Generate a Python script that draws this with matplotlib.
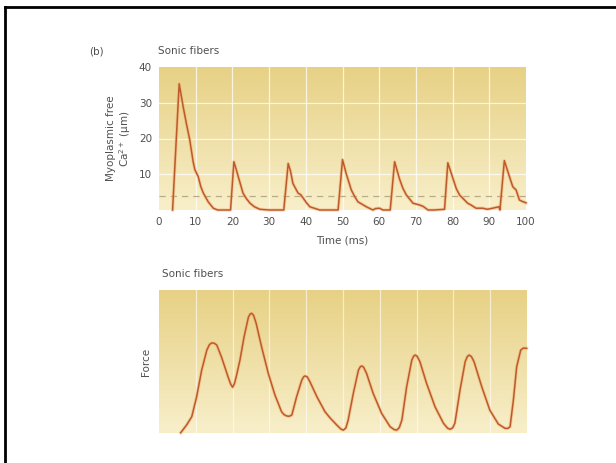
# -*- coding: utf-8 -*-
"""Sonic fibers: myoplasmic free Ca2+ transients and force trace."""

import matplotlib.pyplot as plt
import numpy as np
from matplotlib.colors import LinearSegmentedColormap
from matplotlib.lines import Line2D


# =============================================================================
# Data
# =============================================================================

CA_TIME = [3.7, 5.5, 6.6, 7.5, 8.4, 9.3, 9.8, 10.7, 11.4, 12.1, 13.4, 14.8, 16.0,
           18.9, 19.5, 20.4, 21.0, 21.6, 22.9, 23.8, 24.8, 26.0, 27.5, 30.0, 34.0,
           35.2, 35.8, 36.5, 37.9, 38.6, 39.3, 40.2, 41.1, 43.8, 46.0, 48.8,
           50.0, 51.0, 52.4, 53.3, 54.2, 56.5, 58.3, 59.0, 60.1, 61.0, 62.4, 63.0,
           64.2, 65.5, 66.4, 67.4, 69.2, 71.0, 72.0, 73.3, 75.0, 77.8,
           78.7, 80.1, 81.0, 81.9, 84.1, 85.0, 86.4, 88.2, 89.5, 90.9, 92.6, 92.9,
           94.1, 95.5, 96.4, 97.3, 98.2, 99.0, 100.0]
CA_FREE = [0.0, 35.3, 28.8, 24.0, 19.5, 13.5, 11.2, 9.3, 6.5, 4.7, 2.3, 0.5, 0.0,
           0.0, 0.0, 13.5, 11.5, 9.3, 4.7, 3.2, 1.9, 0.9, 0.2, 0.0, 0.0,
           13.0, 11.0, 7.4, 4.7, 4.3, 3.3, 2.0, 0.9, 0.0, 0.0, 0.0,
           14.1, 10.2, 5.6, 3.8, 2.3, 0.9, 0.0, 0.4, 0.5, 0.0, 0.0, 0.0,
           13.5, 8.8, 6.2, 4.2, 1.9, 1.4, 1.0, 0.0, 0.0, 0.2,
           13.2, 8.8, 6.0, 4.2, 1.9, 1.4, 0.5, 0.5, 0.2, 0.5, 0.9, 0.0,
           13.8, 9.3, 6.5, 5.6, 2.8, 2.4, 2.0]

CA_REST = 3.9

FORCE_TIME = [5.9, 7.5, 8.9, 10.2, 11.6, 13.0, 13.7, 14.3, 15.0, 15.7, 17.0, 18.8,
              19.5, 20.0, 20.5, 21.1, 22.0, 23.1, 24.3, 24.8, 25.2, 25.7, 26.4,
              27.9, 29.7, 31.5, 33.3, 34.0, 34.7, 35.4, 36.1, 37.4, 38.8, 39.3,
              39.7, 40.3, 41.0, 42.9, 45.1, 46.5, 48.3, 49.4, 50.1, 50.8, 51.4,
              52.8, 54.2, 54.7, 55.1, 55.6, 56.4, 58.2, 60.5, 62.8, 63.9, 64.6,
              65.3, 66.0, 67.3, 68.7, 69.2, 69.6, 70.1, 70.9, 72.7, 75.0, 77.3,
              78.4, 79.1, 79.8, 80.4, 81.8, 83.2, 83.8, 84.3, 84.9, 85.6, 87.7,
              89.9, 92.2, 94.0, 94.8, 95.4, 96.3, 97.2, 98.3, 99.0, 99.9]
FORCE = [0.2, 5.6, 11.4, 25.0, 44.0, 58.0, 61.8, 63.0, 62.8, 61.5, 53.0, 39.0,
         34.0, 32.0, 34.5, 40.6, 51.0, 67.0, 81.0, 83.3, 83.7, 82.3, 76.7,
         60.0, 41.7, 26.6, 14.9, 12.8, 11.9, 11.7, 12.6, 25.4, 37.0, 39.3,
         39.9, 39.2, 35.9, 25.4, 14.9, 10.5, 5.6, 2.8, 2.0, 3.6, 9.0,
         27.7, 44.0, 46.3, 46.9, 46.0, 41.7, 27.7, 13.7, 4.4, 2.4, 2.0,
         3.8, 9.0, 32.4, 51.0, 53.7, 54.5, 53.8, 49.9, 34.8, 18.4, 6.8,
         3.4, 2.6, 3.6, 6.8, 30.0, 49.9, 53.5, 54.5, 53.4, 49.9, 32.4,
         16.0, 6.3, 3.3, 3.2, 4.4, 23.0, 46.4, 58.0, 59.4, 59.2]

TIME_TICKS = [0, 10, 20, 30, 40, 50, 60, 70, 80, 90, 100]
CA_TICKS = [10, 20, 30, 40]

# =============================================================================
# Styling
# =============================================================================

W, H = 616, 463
TEXT_COLOR = "#505050"
LINE_COLOR = "#bd5a2a"
GLOW_COLOR = "#f2a86e"
BG = LinearSegmentedColormap.from_list("bg", ["#f8efca", "#e7d185"])


def px_box(x0, y0, x1, y1):
    """Axes rectangle from pixel corners (top-left origin)."""
    return [x0 / W, 1 - y1 / H, (x1 - x0) / W, (y1 - y0) / H]


def shade(ax):
    grad = np.linspace(0, 1, 256).reshape(-1, 1)
    ax.imshow(grad, cmap=BG, origin="lower", aspect="auto",
              extent=(0, 1, 0, 1), transform=ax.transAxes, zorder=0)


def trace(ax, x, y):
    ax.plot(x, y, color=GLOW_COLOR, lw=2.4, alpha=0.45, zorder=3,
            solid_joinstyle="round", clip_on=False)
    ax.plot(x, y, color=LINE_COLOR, lw=1.1, zorder=4,
            solid_joinstyle="round", clip_on=False)


def main():
    plt.rcParams.update({
        "font.family": "DejaVu Sans",
        "font.size": 7.5,
        "text.color": TEXT_COLOR,
        "axes.labelcolor": TEXT_COLOR,
        "xtick.color": TEXT_COLOR,
        "ytick.color": TEXT_COLOR,
    })

    fig = plt.figure(figsize=(W / 100, H / 100), dpi=100)

    # frame around the panel (only top and left edges visible)
    fig.add_artist(Line2D([5 / W, 5 / W], [0, 1 - 7 / H], color="black", lw=2.0))
    fig.add_artist(Line2D([5 / W, 1], [1 - 7 / H, 1 - 7 / H], color="black", lw=2.0))

    # ---- top panel: free Ca2+ ----
    ax1 = fig.add_axes(px_box(159, 67, 526, 210))
    shade(ax1)
    for t in TIME_TICKS[1:-1]:
        ax1.axvline(t, color="white", lw=0.9, alpha=0.75, zorder=1)
    for c in CA_TICKS[:-1]:
        ax1.axhline(c, color="white", lw=0.9, alpha=0.75, zorder=1)
    ax1.axhline(CA_REST, color="#b9ab85", lw=0.9, ls=(0, (5, 4)), zorder=2)
    trace(ax1, CA_TIME, CA_FREE)
    ax1.set_xlim(0, 100)
    ax1.set_ylim(0, 40)
    ax1.set_xticks(TIME_TICKS)
    ax1.set_yticks(CA_TICKS)
    ax1.tick_params(length=0, labelsize=7.5, pad=5)
    ax1.set_xlabel("Time (ms)", fontsize=7.5, labelpad=6)
    ax1.set_ylabel("Myoplasmic free\nCa$^{2+}$ (µm)", fontsize=7.5,
                   labelpad=4, linespacing=1.1)
    for s in ax1.spines.values():
        s.set_visible(False)
    fig.text(96 / W, 1 - 51 / H, "(b)", fontsize=7.5, ha="center", va="center")
    fig.text(158 / W, 1 - 51 / H, "Sonic fibers", fontsize=7.5, ha="left", va="center")

    # ---- bottom panel: force ----
    ax2 = fig.add_axes(px_box(159, 290, 527, 433))
    shade(ax2)
    for t in TIME_TICKS[1:-1]:
        ax2.axvline(t, color="white", lw=0.9, alpha=0.6, zorder=1)
    trace(ax2, FORCE_TIME, FORCE)
    ax2.set_xlim(0, 100)
    ax2.set_ylim(0, 100)
    ax2.set_xticks([])
    ax2.set_yticks([])
    ax2.set_ylabel("Force", fontsize=7.5, labelpad=6)
    for s in ax2.spines.values():
        s.set_visible(False)
    fig.text(162 / W, 1 - 274 / H, "Sonic fibers", fontsize=7.5, ha="left", va="center")

    fig.savefig("out.png", dpi=100)
    plt.close(fig)


if __name__ == "__main__":
    main()
